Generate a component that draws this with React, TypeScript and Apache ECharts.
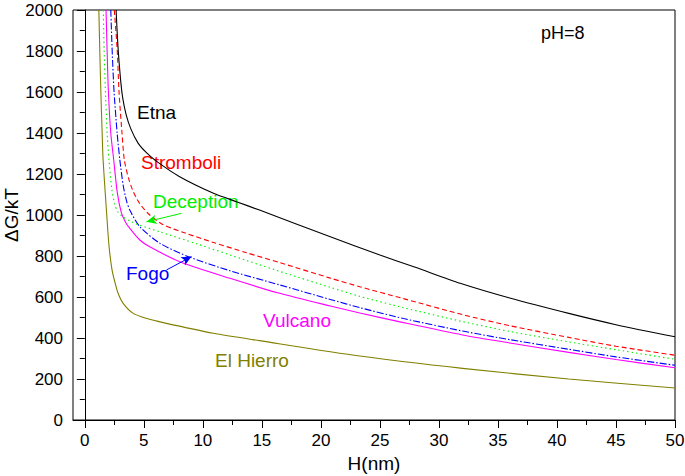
import React, { useEffect, useRef } from "react";
import * as echarts from "echarts";

// H (nm), ΔG/kT pairs
const etna = [[2.65,2000],[2.8,1830],[3.0,1680],[3.2,1575],[3.5,1490],[3.9,1420],[4.5,1352],[5.2,1305],[6.0,1265],[8.0,1188],[10.9,1106],[12.85,1065],[14.8,1024],[20.8,894],[25,805],[28,745],[31.8,667],[36,595],[41,520],[45,465],[50,406]];
const stromboli = [[2.5,2000],[2.75,1800],[2.9,1600],[3.15,1400],[3.35,1268],[3.7,1180],[4.1,1115],[4.66,1055],[5.5,1000],[6.64,953],[8.5,912],[10.9,866],[13.7,816],[16.5,768],[20.8,692],[23.3,650],[27,592],[32,514],[36,460],[41,403],[45,360],[50,316]];
const deception = [[1.57,2000],[1.64,1800],[1.75,1600],[1.89,1400],[2.05,1268],[2.3,1120],[2.55,1050],[2.8,1015],[3.25,990],[4.0,966],[4.66,950],[6.36,918],[9.46,860],[13.7,778],[17,716],[20.8,647],[23.3,603],[27,548],[32,480],[36,432],[41,381],[45,343],[50,296]];
const fogo = [[2.2,2000],[2.32,1800],[2.48,1600],[2.74,1400],[2.97,1268],[3.25,1145],[3.53,1070],[3.81,1024],[4.66,943],[6.36,862],[8.9,794],[12.3,728],[16.5,659],[20.8,588],[23.3,548],[27,495],[32,434],[36,392],[41,345],[45,308],[50,267]];
const vulcano = [[1.8,2000],[1.89,1800],[2.0,1600],[2.2,1400],[2.45,1268],[2.75,1110],[3.1,1010],[3.45,965],[3.81,935],[4.66,878],[5.5,845],[8.05,772],[12.3,691],[16.5,618],[20.8,556],[23.3,522],[27,475],[32,415],[36,376],[41,330],[45,295],[50,255]];
const elHierro = [[1.19,2000],[1.27,1800],[1.36,1600],[1.47,1400],[1.55,1268],[1.83,1024],[2.05,850],[2.3,735],[2.55,672],[2.82,618],[3.25,569],[4.1,520],[5.2,496],[6.64,475],[10.9,423],[14.8,387],[23.3,312],[32,252],[41,200],[50,156]];

const xMajorTicks = [0,5,10,15,20,25,30,35,40,45,50];
const xMinorTicks = [2.5,7.5,12.5,17.5,22.5,27.5,32.5,37.5,42.5,47.5];

// arrow annotations [tail, tip] in data units
const deceptionArrow = [[8.19,1008],[5.22,967]];
const fogoArrow = [[6.92,732],[9.04,797]];

const FONT = "'Liberation Sans', Arial, sans-serif";

export default function App() {
  const ref = useRef<HTMLDivElement>(null);
  useEffect(() => {
    if (!ref.current) return;
    const chart = echarts.init(ref.current, null, { renderer: "svg" });
    const lineSeries = (name: string, data: number[][], color: string, type: any) => ({
      name,
      type: "line",
      data,
      showSymbol: false,
      smooth: 0.25,
      lineStyle: { color, width: 1.1, type },
      itemStyle: { color },
      clip: true,
    });
    const arrow = (pts: number[][], color: string) => ({
      silent: true,
      symbol: ["none", "arrow"],
      symbolSize: [7, 10],
      label: { show: false },
      lineStyle: { color, width: 1, type: "solid" },
      data: [[{ coord: pts[0] }, { coord: pts[1] }]],
    });
    const s1 = lineSeries("Etna", etna, "#000000", "solid");
    const s2 = lineSeries("Stromboli", stromboli, "#ff0000", [5, 3]);
    const s3: any = lineSeries("Deception", deception, "#00ee00", [1.5, 3]);
    s3.markLine = arrow(deceptionArrow, "#00ee00");
    const s4: any = lineSeries("Fogo", fogo, "#0000ff", [7, 2, 1.5, 2]);
    s4.markLine = arrow(fogoArrow, "#0000ff");
    const s5 = lineSeries("Vulcano", vulcano, "#ff00ff", "solid");
    const s6 = lineSeries("El Hierro", elHierro, "#808000", "solid");

    const labelText = (text: string, x: number, y: number, color: string, size = 19) => ({
      type: "text",
      x,
      y,
      silent: true,
      style: { text, fill: color, font: `${size}px ${FONT}`, align: "left", verticalAlign: "middle" },
    });

    chart.setOption({
      animation: false,
      backgroundColor: "#ffffff",
      grid: { left: 73, right: 10, top: 10, bottom: 56, show: true, borderColor: "#000", borderWidth: 1, containLabel: false, outerBoundsMode: "none" },
      xAxis: [
        {
          type: "value",
          min: -1,
          max: 50,
          name: "H(nm)",
          nameLocation: "middle",
          nameGap: 34,
          nameMoveOverlap: false,
          nameTextStyle: { color: "#000", fontSize: 19, fontFamily: FONT },
          axisLine: { show: true, lineStyle: { color: "#000", width: 1 } },
          axisTick: { show: true, length: 8, inside: false, customValues: xMajorTicks, lineStyle: { color: "#000" } },
          axisLabel: { show: true, customValues: xMajorTicks, color: "#000", fontSize: 17, fontFamily: FONT, margin: 12 },
          splitLine: { show: false },
        },
        {
          type: "value",
          min: -1,
          max: 50,
          position: "bottom",
          axisLine: { show: false },
          axisTick: { show: true, length: 5, customValues: xMinorTicks, lineStyle: { color: "#000" } },
          axisLabel: { show: false },
          splitLine: { show: false },
        },
      ],
      yAxis: {
        type: "value",
        min: 0,
        max: 2000,
        interval: 200,
        name: "\u0394G/kT",
        nameLocation: "middle",
        nameGap: 52,
        nameMoveOverlap: false,
        nameTextStyle: { color: "#000", fontSize: 19, fontFamily: FONT },
        axisLine: { show: true, lineStyle: { color: "#000", width: 1 } },
        axisTick: { show: true, length: 8, lineStyle: { color: "#000" } },
        minorTick: { show: true, splitNumber: 2, length: 5, lineStyle: { color: "#000" } },
        axisLabel: { color: "#000", fontSize: 17, fontFamily: FONT, margin: 10, formatter: (v: number) => String(v) },
        splitLine: { show: false },
      },
      series: [s6, s5, s4, s3, s2, s1],
      graphic: [
        labelText("Etna", 137, 112, "#000000"),
        labelText("Stromboli", 141, 162, "#ff0000"),
        labelText("Deception", 153, 201, "#00ee00"),
        labelText("Fogo", 126, 273, "#0000ff"),
        labelText("Vulcano", 263, 320, "#ff00ff"),
        labelText("El Hierro", 215, 360, "#808000"),
        labelText("pH=8", 541, 33, "#000000", 18),
      ],
    });
    return () => chart.dispose();
  }, []);
  return <div ref={ref} style={{ position: "fixed", left: 0, top: 0, width: 685, height: 476 }} />;
}
